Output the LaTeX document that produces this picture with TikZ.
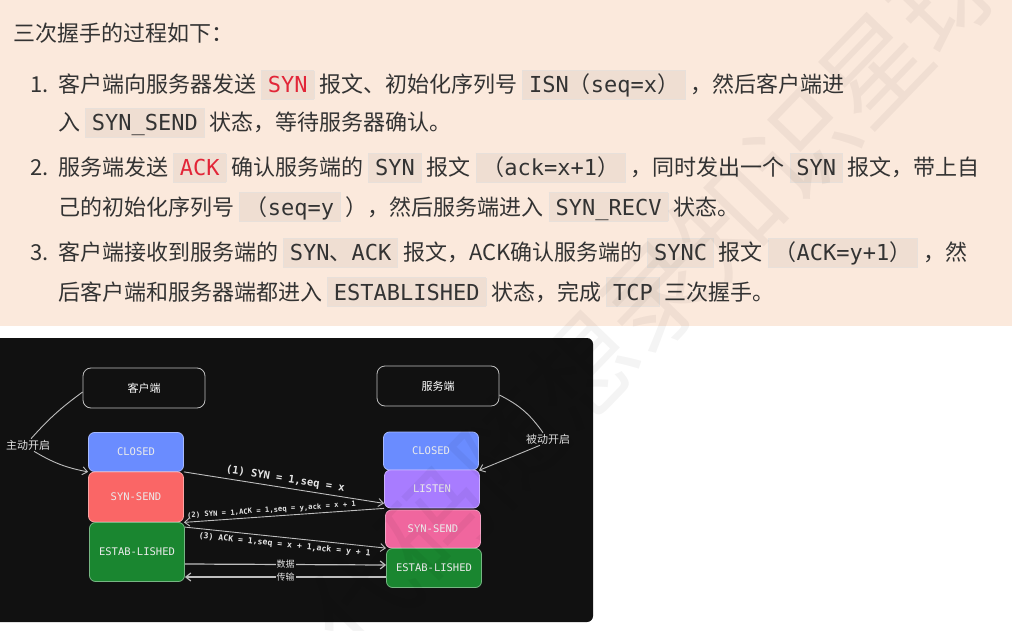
\documentclass[tikz,border=0pt]{standalone}
\usepackage{fontspec}
\setmainfont{Noto Sans CJK SC}
\newfontfamily\cjk{Noto Sans CJK SC}
\newfontfamily\mono{DejaVu Sans Mono}
\usetikzlibrary{arrows.meta,calc}

\definecolor{peach}{RGB}{251,233,220}
\definecolor{ink}{RGB}{51,51,51}
\definecolor{codebg}{RGB}{239,222,210}
\definecolor{codeline}{RGB}{232,224,218}
\definecolor{codered}{RGB}{226,38,56}
\definecolor{panel}{RGB}{17,17,17}
\definecolor{wiregray}{RGB}{190,190,190}
\definecolor{closedblue}{RGB}{106,140,255}
\definecolor{sendred}{RGB}{250,102,102}
\definecolor{estgreen}{RGB}{26,134,48}
\definecolor{listenpurple}{RGB}{168,124,255}
\definecolor{recvpink}{RGB}{240,102,158}

\newcommand\code[1]{{\setlength\fboxsep{6pt}\setlength\fboxrule{0.8pt}%
  \fcolorbox{codeline}{codebg}{\mono\smash{#1}\rule{0pt}{16pt}}}}

\begin{document}
\begin{tikzpicture}
		[x=1pt,y=-1pt,>={Straight Barb[length=5pt,width=8pt]},
		textline/.style={anchor=base west,inner sep=0pt,text=ink,
			font=\fontsize{22}{26}\selectfont},
		stbox/.style={rectangle,rounded corners=6pt,draw=#1!60!white,fill=#1,
			line width=0.8pt,minimum width=95pt,inner sep=0pt,text=white!92!black,
			font=\mono\fontsize{10.5}{12}\selectfont},
		endbox/.style={rectangle,rounded corners=8pt,draw=white!75!black,
			line width=0.8pt,fill=panel,minimum width=122pt,minimum height=40pt,
			text=white,font=\fontsize{11}{13}\selectfont},
		tag/.style={inner sep=1pt,text=white!90!black,font=\fontsize{11}{13}\selectfont},
		wire/.style={draw=wiregray,line width=0.9pt},
		msg/.style={wire,->},
		msglabel/.style={sloped,inner sep=1pt,text=white!90!black}]
		\useasboundingbox (0,0) rectangle (1012,631);
		\fill[white] (0,0) rectangle (1012,631);
		\fill[peach] (0,0) rectangle (1012,326);

		% text part
		\node[textline] (title) at (13,42) {三次握手的过程如下：};
		\foreach \n/\y in {1/93,2/176,3/261}
			\node[textline] (num\n) at (30,\y) {\n.};
		\node[textline] (l1a) at (58,93) {客户端向服务器发送 \code{\color{codered}SYN} 报文、初始化序列号 \code{ISN{\cjk （}seq=x{\cjk ）}} ，然后客户端进};
		\node[textline] (l1b) at (58,131) {入 \code{SYN\_SEND} 状态，等待服务器确认。};
		\node[textline] (l2a) at (58,176) {服务端发送 \code{\color{codered}ACK} 确认服务端的 \code{SYN} 报文 \code{{\cjk （}ack=x+1{\cjk ）}} ，同时发出一个 \code{SYN} 报文，带上自};
		\node[textline] (l2b) at (58,215) {己的初始化序列号 \code{{\cjk （}seq=y} ），然后服务端进入 \code{SYN\_RECV} 状态。};
		\node[textline] (l3a) at (58,261) {客户端接收到服务端的 \code{SYN{\cjk 、}ACK} 报文，ACK确认服务端的 \code{SYNC} 报文 \code{{\cjk （}ACK=y+1{\cjk ）}} ，然};
		\node[textline] (l3b) at (58,300) {后客户端和服务器端都进入 \code{ESTABLISHED} 状态，完成 \code{TCP} 三次握手。};

		% diagram
		\fill[panel,rounded corners=6pt] (-10,338) rectangle (593,622);
		\node[endbox] (cli) at (144,388) {客户端};
		\node[endbox] (srv) at (438,386) {服务端};
		\node[stbox=closedblue,minimum height=39pt] (c1) at (136,452) {CLOSED};
		\node[stbox=sendred,minimum height=50pt] (c2) at (136,497) {SYN-SEND};
		\node[stbox=estgreen,minimum height=59pt] (c3) at (137,552) {ESTAB-LISHED};
		\node[stbox=closedblue,minimum height=38pt] (s1) at (431,451) {CLOSED};
		\node[stbox=listenpurple,minimum height=38pt] (s2) at (432,489) {LISTEN};
		\node[stbox=recvpink,minimum height=38pt] (s3) at (433,529) {SYN-SEND};
		\node[stbox=estgreen,minimum height=39pt] (s4) at (434,568) {ESTAB-LISHED};
		\node[tag] (active) at (28,445) {主动开启};
		\node[tag] (passive) at (548,439) {被动开启};

		\draw[wire] ([yshift=-4pt]cli.west) to[bend right=6] ([xshift=3pt]active.north);
		\draw[msg] ([xshift=6pt]active.south) to[bend right=10] (c1.south west);
		\draw[wire] ([yshift=-9pt]srv.east) to[bend left=14] ([xshift=-5pt]passive.north);
		\draw[msg] ([xshift=-8pt]passive.south) -- (s1.south east);

		\draw[msg] (c1.south east) -- node[msglabel,above=2pt,
			font=\mono\bfseries\fontsize{10.5}{12}\selectfont]
			{(1) SYN = 1,seq = x} ([yshift=5pt]s2.south west);
		\draw[msg] (s2.south west) -- node[msglabel,pos=0.56,above=1pt,
			font=\mono\bfseries\fontsize{7.2}{9}\selectfont]
			{(2) SYN = 1,ACK = 1,seq = y,ack = x + 1} (c2.south east);
		\draw[msg] ([yshift=-5pt]c3.north east) -- node[msglabel,below=2pt,
			font=\mono\bfseries\fontsize{8.2}{10}\selectfont]
			{(3) ACK = 1,seq = x + 1,ack = y + 1} (s4.north west);
		\draw[msg,line width=1.2pt] ([yshift=-12pt]c3.east) -- node[tag,fill=panel,
			font=\fontsize{9}{10}\selectfont] {数据} ([yshift=3pt]s4.west);
		\draw[msg,line width=1.2pt] ([yshift=-9pt]s4.west) -- node[tag,fill=panel,
			font=\fontsize{9}{10}\selectfont] {传输} ([yshift=-25pt]c3.east);

		% watermark
		\node[rotate=46,text=black,text opacity=0.045,inner sep=0pt,
			font=\fontsize{105}{105}\selectfont] (mark) at (655,295) {代码随想录知识星球};
\end{tikzpicture}
\end{document}
